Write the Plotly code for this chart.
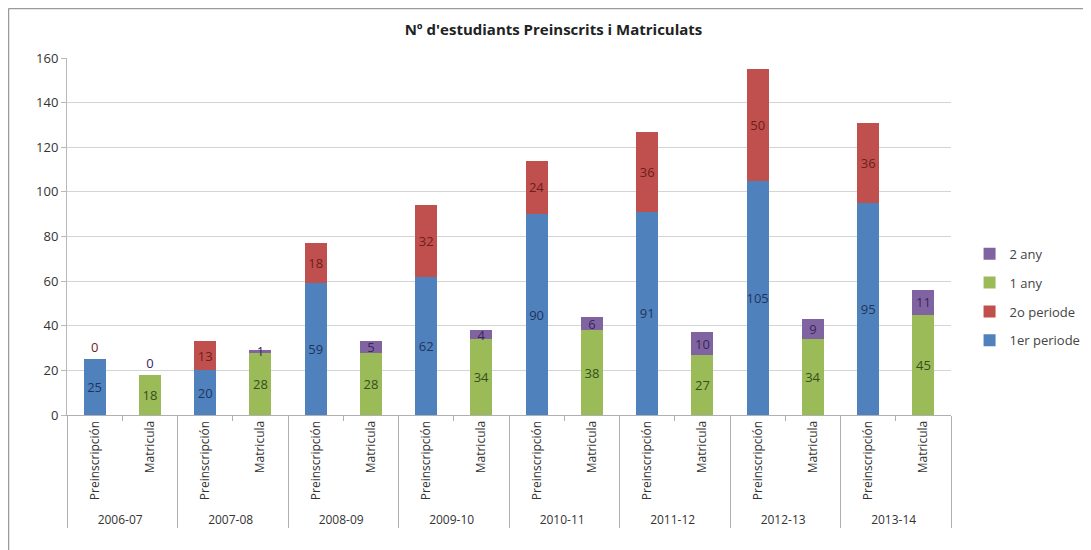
import plotly.graph_objects as go

years = ["2006-07", "2007-08", "2008-09", "2009-10", "2010-11", "2011-12", "2012-13", "2013-14"]
types = ["Preinscripción", "Matricula"]

periode1 = [25, 20, 59, 62, 90, 91, 105, 95]
periode2 = [0, 13, 18, 32, 24, 36, 50, 36]
any1 = [18, 28, 28, 34, 38, 27, 34, 45]
any2 = [0, 1, 5, 4, 6, 10, 9, 11]

y_ticks = [0, 20, 40, 60, 80, 100, 120, 140, 160]

x_outer = []
x_inner = []
for yr in years:
    for t in types:
        x_outer.append(yr)
        x_inner.append(t)


def spread(vals, slot):
    out = []
    for v in vals:
        for i, t in enumerate(types):
            out.append(v if i == slot else None)
    return out


series = [
    ("1er periode", spread(periode1, 0), "#4F81BD", "#1F3560", 4),
    ("2o periode", spread(periode2, 0), "#C0504D", "#6E1E1C", 3),
    ("1 any", spread(any1, 1), "#9BBB59", "#34501A", 2),
    ("2 any", spread(any2, 1), "#8064A2", "#3A2658", 1),
]

fig = go.Figure()
for name, vals, color, tcolor, rank in series:
    texts = ["" if v is None else str(v) for v in vals]
    positions = ["outside" if v == 0 else "inside" for v in vals]
    fig.add_trace(go.Bar(
        name=name,
        legendgroup=name,
        legendrank=rank,
        x=[x_outer, x_inner],
        y=vals,
        marker=dict(color=color, line=dict(width=0)),
        text=texts,
        textposition=positions,
        textangle=0,
        constraintext="none",
        insidetextanchor="middle",
        textfont=dict(color=tcolor, size=13, family="Open Sans"),
        cliponaxis=False,
        hoverinfo="name+y",
    ))

L, R, T, B = 59, 148, 50, 143
W, H = 1091, 550
pw, ph = W - L - R, H - T - B

fig.update_layout(
    barmode="stack",
    bargap=0.6,
    width=W,
    height=H,
    paper_bgcolor="white",
    plot_bgcolor="white",
    font=dict(family="Open Sans", size=12, color="#333333"),
    title=dict(text="<b>Nº d'estudiants Preinscrits i Matriculats</b>", x=0.5, xanchor="center",
               y=0.96, yanchor="middle", font=dict(size=15, color="#222222")),
    margin=dict(l=L, r=R, t=T, b=B),
    legend=dict(traceorder="grouped", tracegroupgap=9, x=1.021, xanchor="left",
                y=0.33, yanchor="middle", font=dict(size=13, color="#444444"), itemwidth=30),
    shapes=[
        dict(type="line", xref="paper", yref="paper", x0=-(L - 0.5) / pw, x1=-(L - 0.5) / pw,
             y0=-(B + 5) / ph, y1=1 + (T - 0.5) / ph, line=dict(color="#9a9a9a", width=1.5)),
        dict(type="line", xref="paper", yref="paper", x0=-(L - 0.5) / pw, x1=1 + (R + 5) / pw,
             y0=1 + (T - 0.5) / ph, y1=1 + (T - 0.5) / ph, line=dict(color="#9a9a9a", width=1.5)),
    ],
)
fig.update_yaxes(range=[0, 160], tickvals=y_ticks, showgrid=True, gridcolor="#d4d4d4", gridwidth=1,
                 zeroline=False, showline=True, linecolor="#b8b8b8", ticks="outside", ticklen=5,
                 tickcolor="#b8b8b8", tickfont=dict(size=13, color="#333333"))
fig.update_xaxes(tickangle=-90, showline=True, linecolor="#b0b0b0", showdividers=True,
                 dividercolor="#b0b0b0", dividerwidth=1, ticks="outside", tickcolor="#b0b0b0",
                 tickfont=dict(size=12, color="#333333"))

fig.write_html("out.html")
